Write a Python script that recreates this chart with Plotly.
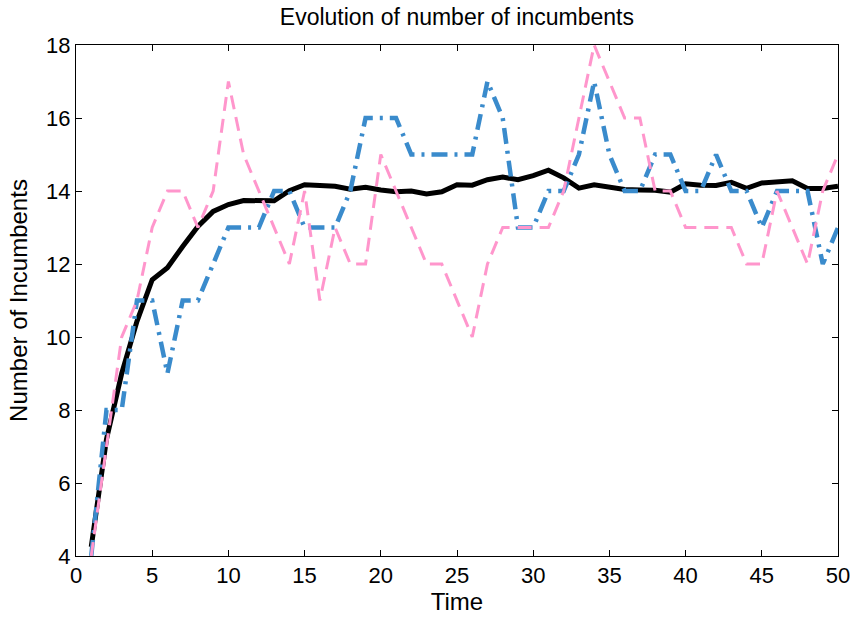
import plotly.graph_objects as go

time = list(range(1, 51))

mean_incumbents = [4.25, 7.2, 9.0, 10.43, 11.57, 11.9, 12.48, 13.03, 13.44, 13.63,
                   13.74, 13.74, 13.73, 14.01, 14.17, 14.15, 14.13, 14.05, 14.1, 14.03,
                   13.98, 14.0, 13.92, 13.98, 14.17, 14.16, 14.31, 14.38, 14.31, 14.42,
                   14.57, 14.36, 14.08, 14.17, 14.1, 14.04, 14.03, 14.02, 13.97, 14.2,
                   14.16, 14.15, 14.24, 14.07, 14.22, 14.25, 14.28, 14.07, 14.07, 14.13]

run_blue = [4, 8, 8, 11, 11, 9, 11, 11, 12, 13,
            13, 13, 14, 14, 13, 13, 13, 14, 16, 16,
            16, 15, 15, 15, 15, 15, 17, 16, 13, 13,
            14, 14, 15, 17, 15, 14, 14, 15, 15, 14,
            14, 15, 14, 14, 13, 14, 14, 14, 12, 13]

run_pink = [4, 7, 10, 11, 13, 14, 14, 13, 14, 17,
            15, 14, 13, 12, 14, 11, 13, 12, 12, 15,
            14, 13, 12, 12, 11, 10, 12, 13, 13, 13,
            13, 14, 16, 18, 17, 16, 16, 14, 14, 13,
            13, 13, 13, 12, 12, 14, 13, 12, 14, 15]

x_ticks = [0, 5, 10, 15, 20, 25, 30, 35, 40, 45, 50]
y_ticks = [4, 6, 8, 10, 12, 14, 16, 18]

fig = go.Figure()
fig.add_trace(go.Scatter(x=time, y=mean_incumbents, mode="lines",
                         line=dict(color="black", width=5), showlegend=False))
fig.add_trace(go.Scatter(x=time, y=run_blue, mode="lines",
                         line=dict(color="#3A8BCC", width=4.5, dash="16px,7px,3px,7px"),
                         showlegend=False))
fig.add_trace(go.Scatter(x=time, y=run_pink, mode="lines",
                         line=dict(color="#FF96CC", width=3, dash="14px,8px"),
                         showlegend=False))

font_family = "Liberation Sans, Arial, sans-serif"
axis_common = dict(showline=True, linecolor="black", linewidth=1, mirror="ticks",
                   ticks="inside", ticklen=6, tickcolor="black", tickwidth=1,
                   showgrid=False, zeroline=False, automargin=False,
                   tickfont=dict(family=font_family, size=22, color="black"))

fig.update_layout(
    width=854, height=617,
    margin=dict(l=76, r=16, t=45, b=61),
    paper_bgcolor="white", plot_bgcolor="white",
    title=dict(text="Evolution of number of incumbents", x=0.535, xanchor="center",
               y=0.972, yanchor="middle",
               font=dict(family=font_family, size=23, color="black")),
    xaxis=dict(range=[0, 50], tickvals=x_ticks,
               title=dict(text="Time", font=dict(family=font_family, size=24, color="black"),
                          standoff=3),
               **axis_common),
    yaxis=dict(range=[4, 18], tickvals=y_ticks,
               title=dict(text="Number of Incumbents",
                          font=dict(family=font_family, size=24, color="black"),
                          standoff=11),
               **axis_common),
)

fig.write_html("out.html")
